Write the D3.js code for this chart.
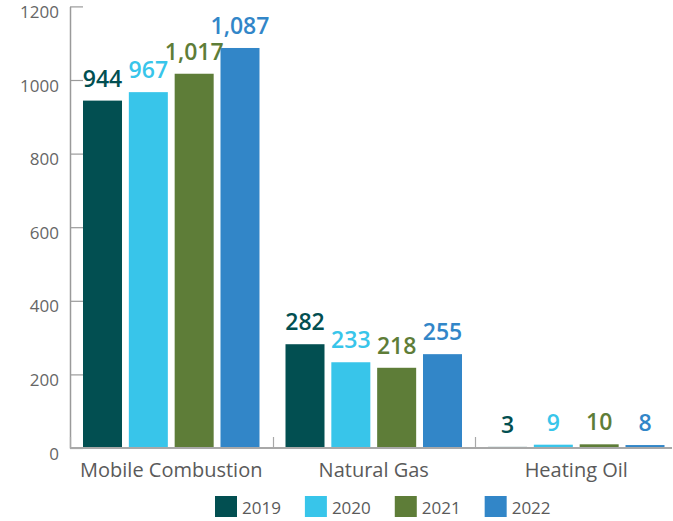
<!DOCTYPE html>
<html>
<head>
<meta charset="utf-8">
<script src="https://cdn.jsdelivr.net/npm/d3@7"></script>
<style>
  html, body { margin: 0; padding: 0; background: #fff; }
  svg { display: block; font-family: "Open Sans", sans-serif; }
</style>
</head>
<body>
<svg id="chart" width="673" height="521"></svg>
<script>
// Chart data
const categories = ['Mobile Combustion', 'Natural Gas', 'Heating Oil'];
const years = ['2019', '2020', '2021', '2022'];
const values2019 = [944, 282, 3];
const values2020 = [967, 233, 9];
const values2021 = [1017, 218, 10];
const values2022 = [1087, 255, 8];
const yTicks = [0, 200, 400, 600, 800, 1000, 1200];
const colors = ['#024f51', '#38c5ea', '#5e7d38', '#3286c8'];

const series = [values2019, values2020, values2021, values2022];

const svg = d3.select('#chart');

// Scales
const x = d3.scaleBand().domain(categories).range([70, 677.5]).padding(0);
const xInner = d3.scaleBand().domain(years)
    .range([13, x.bandwidth() - 13])
    .paddingInner(0.149).paddingOuter(0);
const y = d3.scaleLinear().domain([0, 1200]).range([448, 6.4]);

const fmt = d3.format(',');

// Bars
const groups = svg.append('g')
    .selectAll('g')
    .data(categories)
    .join('g')
    .attr('transform', d => `translate(${x(d)},0)`);

const cells = (c, ci) => years.map((yr, i) => ({ year: yr, value: series[i][ci], color: colors[i] }));

groups.selectAll('rect')
    .data(cells)
    .join('rect')
    .attr('x', d => xInner(d.year))
    .attr('y', d => y(d.value))
    .attr('width', xInner.bandwidth())
    .attr('height', d => y(0) - y(d.value))
    .attr('fill', d => d.color);

// Value labels
groups.selectAll('text')
    .data(cells)
    .join('text')
    .attr('x', d => xInner(d.year) + xInner.bandwidth() / 2)
    .attr('y', d => y(d.value) - 14)
    .attr('text-anchor', 'middle')
    .attr('fill', d => d.color)
    .attr('font-size', '23px')
    .attr('font-weight', 600)
    .text(d => fmt(d.value));

// Y axis
const yAxis = svg.append('g')
    .attr('transform', 'translate(70,0)')
    .call(d3.axisLeft(y).tickValues(yTicks).tickFormat(d3.format('d'))
        .tickSizeInner(-13).tickSizeOuter(0).tickPadding(11));
yAxis.select('.domain').attr('stroke', '#9a9a9a').attr('stroke-width', 1.5);
yAxis.selectAll('.tick line').attr('stroke', '#9a9a9a').attr('stroke-width', 1.2);
yAxis.selectAll('.tick text')
    .attr('fill', '#666')
    .attr('font-size', '17px')
    .attr('font-family', '"Open Sans", sans-serif')
    .attr('y', 0)
    .attr('dy', '0.65em');

// X baseline with category separators
const xAxis = svg.append('g');
xAxis.append('line')
    .attr('x1', 70).attr('x2', 672)
    .attr('y1', y(0)).attr('y2', y(0))
    .attr('stroke', '#a8a8a8').attr('stroke-width', 2);
xAxis.selectAll('line.sep')
    .data(categories)
    .join('line')
    .attr('class', 'sep')
    .attr('x1', d => Math.round(x(d)) + 0.5).attr('x2', d => Math.round(x(d)) + 0.5)
    .attr('y1', y(0) - 11).attr('y2', y(0))
    .attr('stroke', '#a8a8a8').attr('stroke-width', 1.2);
xAxis.selectAll('text')
    .data(categories)
    .join('text')
    .attr('x', d => x(d) + x.bandwidth() / 2)
    .attr('y', 477)
    .attr('text-anchor', 'middle')
    .attr('fill', '#5a5a5a')
    .attr('font-size', '20px')
    .text(d => d);

// Legend
const legend = svg.append('g');
let lx = 215;
years.forEach((yr, i) => {
    const item = legend.append('g').attr('transform', `translate(${lx},496)`);
    item.append('rect')
        .attr('width', 22).attr('height', 21)
        .attr('fill', colors[i]);
    const t = item.append('text')
        .attr('x', 27).attr('y', 17.5)
        .attr('fill', '#5a5a5a')
        .attr('font-size', '17px')
        .text(yr);
    lx += 22 + 5 + t.node().getComputedTextLength() + 24;
});
</script>
</body>
</html>
